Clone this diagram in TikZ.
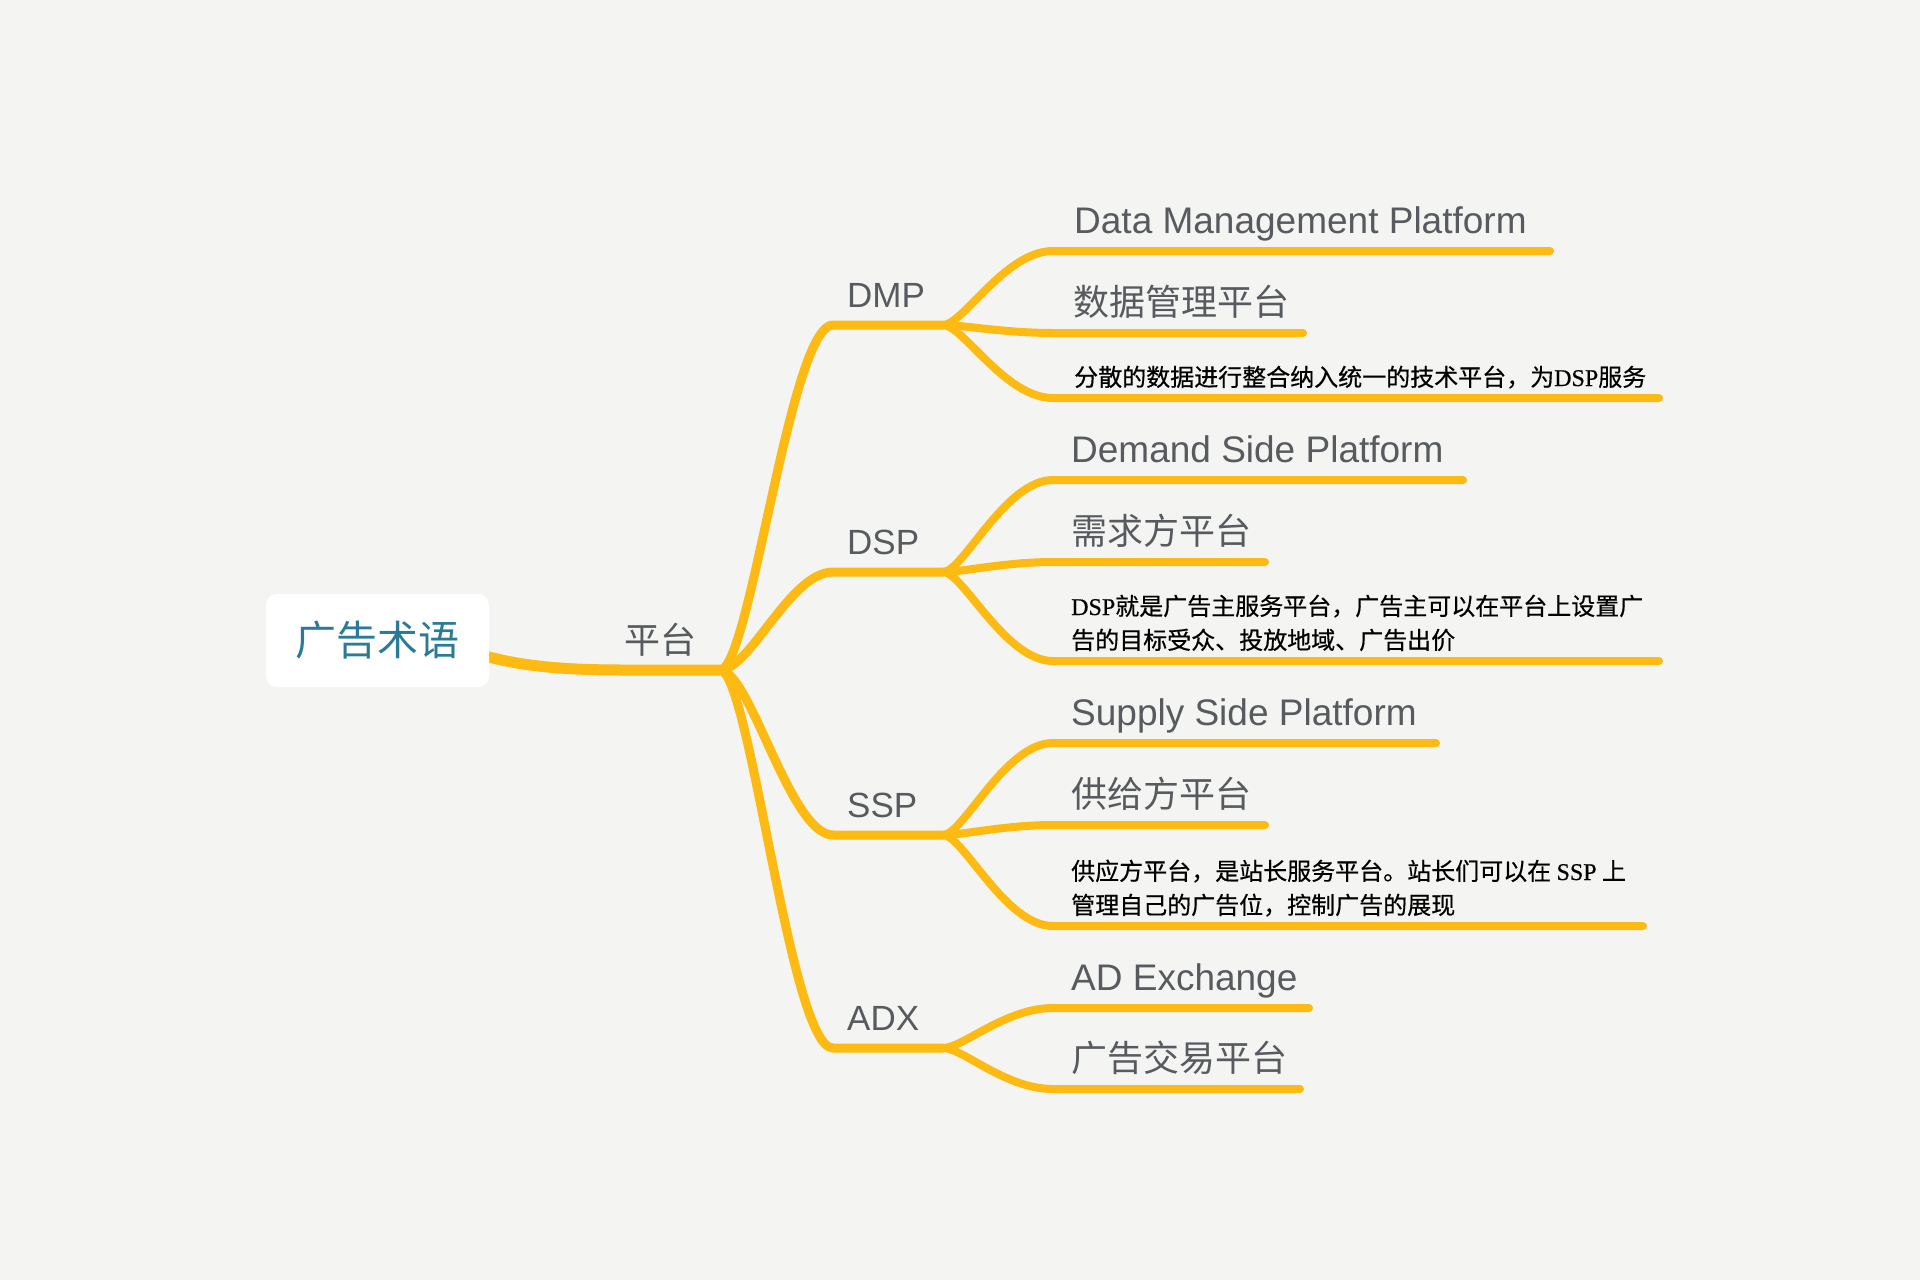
\documentclass[tikz,border=0pt]{standalone}
\usepackage{fontspec}
\setmainfont{Liberation Sans}
\newfontfamily\cjk{Noto Sans CJK SC}
\newfontfamily\cjkdesc[FakeBold=0.5]{Noto Sans CJK SC}
\newfontfamily\lser[FakeBold=0.5]{Liberation Serif}
\usetikzlibrary{calc}
\definecolor{bgcol}{HTML}{F4F5F2}
\definecolor{branch}{RGB}{253,186,18}
\definecolor{lblcol}{HTML}{575A5E}
\definecolor{rootcol}{HTML}{2A7B97}
\pgfdeclarelayer{back}
\pgfdeclarelayer{lines}
\pgfsetlayers{back,lines,main}
\begin{document}
\begin{tikzpicture}[x=1pt,y=-1pt,
  conn/.style={draw=branch, line cap=round, line join=round},
  lvlzero/.style={conn, line width=11pt},
  lvlone/.style={conn, line width=9pt},
  lvltwo/.style={conn, line width=8pt},
  lbltext/.style={anchor=base west, inner sep=0pt, text=lblcol, font=\fontsize{37}{40}\selectfont},
  toptext/.style={lbltext, font=\fontsize{35}{40}\selectfont},
  cjktext/.style={anchor=base west, inner sep=0pt, text=lblcol, font=\cjk\fontsize{36}{40}\selectfont},
  desctext/.style={anchor=base west, inner sep=0pt, text=black, align=left, font=\cjkdesc\fontsize{24}{34}\selectfont},
  rootbox/.style={rounded corners=11pt, fill=white, minimum width=223pt, minimum height=93pt, inner sep=0pt, text=rootcol, font=\cjk\fontsize{41}{45}\selectfont},
]
\begin{pgfonlayer}{back}
\fill[bgcol] (0,0) rectangle (1920,1280);
\end{pgfonlayer}
\useasboundingbox (0,0) rectangle (1920,1280);

% root and hub
\node[rootbox] (root) at (377.5,640.5) {广告术语};
\node[cjktext] (plat) at (624,653) {平台};
\coordinate (hubS) at (625,670);
\coordinate (hub) at (720,670);

% level one
\coordinate (dmpS) at (833,325); \coordinate (dmpE) at (943,325);
\coordinate (dspS) at (833,572); \coordinate (dspE) at (943,572);
\coordinate (sspS) at (833,835); \coordinate (sspE) at (943,835);
\coordinate (adxS) at (833,1048); \coordinate (adxE) at (943,1048);
\node[toptext] (dmp) at (847,307) {DMP};
\node[toptext] (dsp) at (847,554) {DSP};
\node[toptext] (ssp) at (847,817) {SSP};
\node[toptext] (adx) at (847,1030) {ADX};

% level two: DMP
\coordinate (dmpaS) at (1053,251); \coordinate (dmpaE) at (1550,251);
\coordinate (dmpbS) at (1053,333); \coordinate (dmpbE) at (1303,333);
\coordinate (dmpcS) at (1053,398); \coordinate (dmpcE) at (1659,398);
\node[lbltext] (dmpa) at (1074,233) {Data Management Platform};
\node[cjktext] (dmpb) at (1073,315) {数据管理平台};
\node[desctext] (dmpc) at (1074,386) {分散的数据进行整合纳入统一的技术平台，为{\lser DSP}服务};

% level two: DSP
\coordinate (dspaS) at (1053,480); \coordinate (dspaE) at (1463,480);
\coordinate (dspbS) at (1053,562); \coordinate (dspbE) at (1265,562);
\coordinate (dspcS) at (1053,661); \coordinate (dspcE) at (1659,661);
\node[lbltext] (dspa) at (1071,462) {Demand Side Platform};
\node[cjktext] (dspb) at (1071,544) {需求方平台};
\node[desctext] (dspc) at (1071,649) {{\lser DSP}就是广告主服务平台，广告主可以在平台上设置广\\告的目标受众、投放地域、广告出价};

% level two: SSP
\coordinate (sspaS) at (1053,743); \coordinate (sspaE) at (1436,743);
\coordinate (sspbS) at (1053,825); \coordinate (sspbE) at (1265,825);
\coordinate (sspcS) at (1053,926); \coordinate (sspcE) at (1643,926);
\node[lbltext] (sspa) at (1071,725) {Supply Side Platform};
\node[cjktext] (sspb) at (1071,807) {供给方平台};
\node[desctext] (sspc) at (1071,914) {供应方平台，是站长服务平台。站长们可以在 {\lser SSP} 上\\管理自己的广告位，控制广告的展现};

% level two: ADX
\coordinate (adxaS) at (1053,1008); \coordinate (adxaE) at (1309,1008);
\coordinate (adxbS) at (1053,1089); \coordinate (adxbE) at (1300,1089);
\node[lbltext] (adxa) at (1071,990) {AD Exchange};
\node[cjktext] (adxb) at (1071,1071) {广告交易平台};

\begin{pgfonlayer}{lines}
\draw[lvlzero] ([xshift=-6pt,yshift=-15pt]root.east) .. controls +(40,11) and +(-60,0) .. (hubS) -- (hub);
\foreach \n in {dmp,dsp,ssp,adx}{
  \draw[lvlone] (hub) .. controls +(30,0) and +(-43,0) .. (\n S) -- (\n E);
}
\foreach \p/\c in {dmp/dmpa,dmp/dmpb,dmp/dmpc,dsp/dspa,dsp/dspb,dsp/dspc,ssp/sspa,ssp/sspb,ssp/sspc,adx/adxa,adx/adxb}{
  \draw[lvltwo] (\p E) .. controls +(20,0) and +(-48,0) .. (\c S) -- (\c E);
}
\end{pgfonlayer}
\end{tikzpicture}
\end{document}
